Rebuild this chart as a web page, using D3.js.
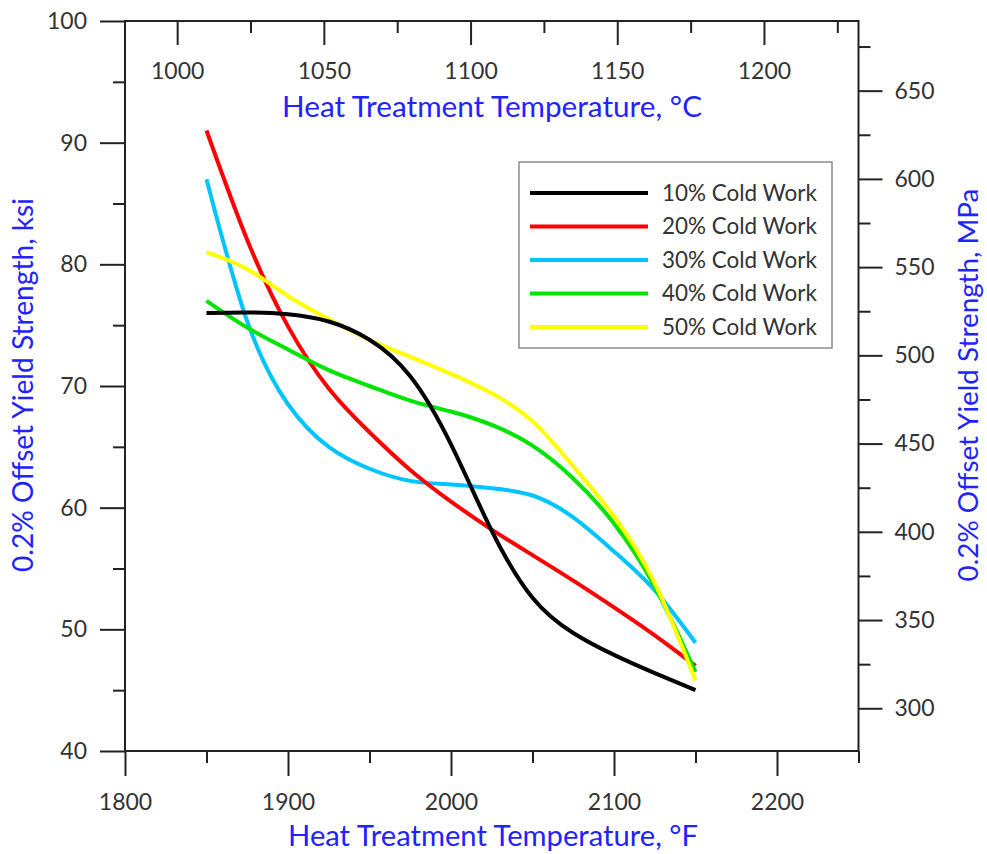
<!DOCTYPE html>
<html><head><meta charset="utf-8">
<script src="https://cdn.jsdelivr.net/npm/d3@7"></script>
<style>
body{margin:0;background:#fff}
svg{display:block}
text{font-family:Lato,"Open Sans",sans-serif}
</style>
</head><body>
<svg id="chart" width="987" height="854"></svg>
<script>
// ---- data ----
const tempF = [1850,1875,1900,1925,1950,1975,2000,2025,2050,2075,2100,2125,2150];
const cw10 = [76.0,76.05,75.9,75.3,73.8,70.8,65.2,58.1,52.6,49.7,47.9,46.4,45.0];
const cw20 = [91.0,82.0,74.9,69.8,66.2,63.1,60.5,58.2,56.1,54.0,51.8,49.5,47.0];
const cw30 = [87.0,75.3,68.5,65.0,63.2,62.2,61.9,61.6,61.0,59.2,56.4,53.2,48.9];
const cw40 = [77.0,74.8,73.0,71.3,70.0,68.8,67.9,66.8,65.1,62.4,58.7,53.5,46.5];
const cw50 = [81.0,79.6,77.4,75.5,73.8,72.4,71.0,69.4,67.1,63.4,59.3,53.8,45.8];
const seriesNames = ["10% Cold Work","20% Cold Work","30% Cold Work","40% Cold Work","50% Cold Work"];
const seriesColors = ["#000000","#ff0000","#00c4ff","#00e400","#ffff00"];
const fTicks = [1800,1900,2000,2100,2200];
const fMinor = [1850,1950,2050,2150,2250];
const cTicks = [1000,1050,1100,1150,1200];
const cMinor = [1025,1075,1125,1175,1225];
const ksiTicks = [40,50,60,70,80,90,100];
const ksiMinor = [45,55,65,75,85,95];
const mpaTicks = [300,350,400,450,500,550,600,650];
const mpaMinor = [325,375,425,475,525,575,625,675];
const xTitleF = "Heat Treatment Temperature, °F";
const xTitleC = "Heat Treatment Temperature, °C";
const yTitleKsi = "0.2% Offset Yield Strength, ksi";
const yTitleMpa = "0.2% Offset Yield Strength, MPa";

// ---- layout ----
const L = 125, R = 858.5, T = 21, B = 751;
const svg = d3.select("#chart");
const axisColor = "#222", labelColor = "#333", titleColor = "#2222ff";

const x = d3.scaleLinear().domain([1800,2250]).range([L,R]);
const xC = d3.scaleLinear().domain([(1800-32)/1.8,(2250-32)/1.8]).range([L,R]);
const y = d3.scaleLinear().domain([40,100]).range([B,T]);
const yM = d3.scaleLinear().domain([40*6.89476,100*6.89476]).range([B,T]);

function styleAxis(g, fs){
  g.select(".domain").remove();
  g.selectAll(".tick line").attr("stroke",axisColor).attr("stroke-width",2);
  g.selectAll(".tick text").attr("fill",labelColor).style("font-size",fs+"px").style("font-family","Lato");
}
const fs = 23;
// bottom
svg.append("g").attr("transform",`translate(0,${B})`)
  .call(d3.axisBottom(x).tickValues(fMinor).tickSize(12).tickFormat("")).call(g=>styleAxis(g,fs));
svg.append("g").attr("transform",`translate(0,${B})`)
  .call(d3.axisBottom(x).tickValues(fTicks).tickSize(25).tickPadding(18).tickFormat(d3.format("d"))).call(g=>styleAxis(g,fs));
// top (ticks inward)
svg.append("g").attr("transform",`translate(0,${T})`)
  .call(d3.axisBottom(xC).tickValues(cMinor).tickSize(12).tickFormat("")).call(g=>styleAxis(g,fs));
svg.append("g").attr("transform",`translate(0,${T})`)
  .call(d3.axisBottom(xC).tickValues(cTicks).tickSize(24).tickPadding(18).tickFormat(d3.format("d"))).call(g=>styleAxis(g,fs));
// left
svg.append("g").attr("transform",`translate(${L},0)`)
  .call(d3.axisLeft(y).tickValues(ksiMinor).tickSize(12).tickFormat("")).call(g=>styleAxis(g,fs));
svg.append("g").attr("transform",`translate(${L},0)`)
  .call(d3.axisLeft(y).tickValues(ksiTicks).tickSize(25).tickPadding(13).tickFormat(d3.format("d"))).call(g=>styleAxis(g,fs));
// right
svg.append("g").attr("transform",`translate(${R},0)`)
  .call(d3.axisRight(yM).tickValues(mpaMinor).tickSize(12).tickFormat("")).call(g=>styleAxis(g,fs));
svg.append("g").attr("transform",`translate(${R},0)`)
  .call(d3.axisRight(yM).tickValues(mpaTicks).tickSize(24).tickPadding(12).tickFormat(d3.format("d"))).call(g=>styleAxis(g,fs));

// frame
svg.append("rect").attr("x",L).attr("y",T).attr("width",R-L).attr("height",B-T)
  .attr("fill","none").attr("stroke",axisColor).attr("stroke-width",2);

// fit text helper
function fit(t, w, base){
  t.style("font-size",base+"px");
  const m = t.node().getComputedTextLength();
  t.style("font-size",(base*w/m)+"px");
}
// titles
const tTop = svg.append("text").attr("x",492).attr("y",107).attr("dy","0.35em")
  .attr("text-anchor","middle").attr("fill",titleColor).text(xTitleC);
fit(tTop,420,26);
const tBot = svg.append("text").attr("x",493).attr("y",836).attr("dy","0.35em")
  .attr("text-anchor","middle").attr("fill",titleColor).text(xTitleF);
fit(tBot,410,26);
const tLeft = svg.append("text").attr("transform","translate(23,385) rotate(-90)").attr("dy","0.35em")
  .attr("text-anchor","middle").attr("fill",titleColor).text(yTitleKsi);
fit(tLeft,374,24);
const tRight = svg.append("text").attr("transform","translate(968,385) rotate(-90)").attr("dy","0.35em")
  .attr("text-anchor","middle").attr("fill",titleColor).text(yTitleMpa);
fit(tRight,393,24);

// curves
const allSeries = [cw10,cw20,cw30,cw40,cw50];
const line = d3.line().x((d,i)=>x(tempF[i])).y(d=>y(d)).curve(d3.curveNatural);
const drawOrder = [2,1,3,4,0];
svg.append("g").selectAll("path").data(drawOrder).join("path")
  .attr("d",i=>line(allSeries[i]))
  .attr("fill","none").attr("stroke",i=>seriesColors[i]).attr("stroke-width",4);

// legend
const lg = svg.append("g");
lg.append("rect").attr("x",519).attr("y",162).attr("width",313).attr("height",186)
  .attr("fill","#fff").attr("stroke","#8a8a8a").attr("stroke-width",1.5);
const legY = d3.scaleLinear().domain([0,4]).range([193,327]);
seriesNames.forEach((n,i)=>{
  lg.append("line").attr("x1",530).attr("x2",648).attr("y1",legY(i)).attr("y2",legY(i))
    .attr("stroke",seriesColors[i]).attr("stroke-width",4);
  const t = lg.append("text").attr("x",662).attr("y",legY(i)).attr("dy","0.35em")
    .attr("fill",labelColor).text(n);
  fit(t,155,20);
});
</script>
</body></html>
